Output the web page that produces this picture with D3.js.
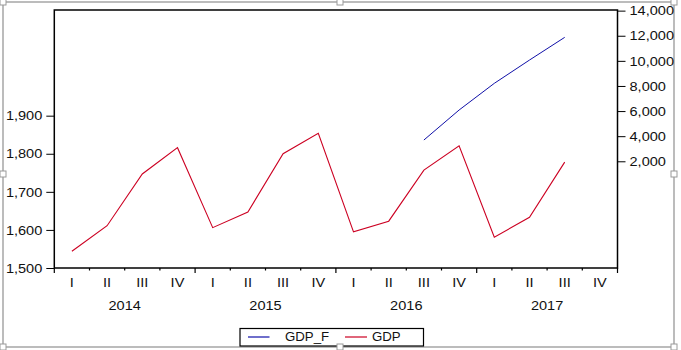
<!DOCTYPE html>
<html><head><meta charset="utf-8">
<script src="https://cdn.jsdelivr.net/npm/d3@7"></script>
<style>
html,body{margin:0;padding:0;background:#fff;}
svg{display:block;}
text{font-family:"Liberation Sans",Arial,sans-serif;fill:#111;}
</style></head>
<body>
<script>
const years = ["2014", "2015", "2016", "2017"];
const quarterNames = ["I", "II", "III", "IV"];
const periods = years.flatMap(y => quarterNames.map(q => y + "-" + q));
const gdp = [1544, 1611, 1747, 1816, 1606, 1647, 1800, 1854, 1595, 1623, 1757, 1821, 1581, 1633, 1778, null];
const gdpF = [null, null, null, null, null, null, null, null, null, null, 3694, 6083, 8209, 10064, 11871, null];
const leftTicks = [1500, 1600, 1700, 1800, 1900];
const rightTicks = [2000, 4000, 6000, 8000, 10000, 12000, 14000];

const W = 681, H = 350;
const L = 54.3, R = 617.5, T = 10, B = 268;
const STRETCH = 1.12;

const svg = d3.select("body").append("svg").attr("width", W).attr("height", H);

const x = d3.scaleBand().domain(periods).range([L, R]).padding(0);
const yL = d3.scaleLinear().domain([1500, 2177.5]).range([B, T]);
const yR = d3.scaleLinear().domain([-6500, 14050]).range([B, T]);
const fmt = d3.format(",");

function stretch(sel, s) {
  sel.each(function () {
    const t = d3.select(this);
    const x0 = +(t.attr("x") || 0);
    t.attr("transform", `matrix(${s},0,0,1,${x0 * (1 - s)},0)`);
  });
}

// outer gray border
svg.append("rect").attr("x", 3).attr("y", 2).attr("width", 671).attr("height", 345)
  .attr("fill", "none").attr("stroke", "#a6a6a6").attr("stroke-width", 1.5);

// plot frame
svg.append("rect").attr("x", L).attr("y", T).attr("width", R - L).attr("height", B - T)
  .attr("fill", "none").attr("stroke", "#000").attr("stroke-width", 1.5);

// left axis
const gl = svg.append("g").attr("transform", `translate(${L},0)`)
  .call(d3.axisLeft(yL).tickValues(leftTicks).tickFormat(fmt).tickSize(8).tickSizeOuter(0).tickPadding(4));
gl.select(".domain").remove();
gl.selectAll("line").attr("stroke", "#000");
gl.selectAll("text").attr("font-size", 13).attr("font-family", "Liberation Sans, Arial, sans-serif").attr("fill", "#111");
stretch(gl.selectAll("text"), STRETCH);

// right axis
const gr = svg.append("g").attr("transform", `translate(${R},0)`)
  .call(d3.axisRight(yR).tickValues(rightTicks).tickFormat(fmt).tickSize(8).tickSizeOuter(0).tickPadding(4));
gr.select(".domain").remove();
gr.selectAll("line").attr("stroke", "#000");
gr.selectAll("text").attr("font-size", 13).attr("font-family", "Liberation Sans, Arial, sans-serif").attr("fill", "#111");
stretch(gr.selectAll("text"), STRETCH);

// bottom axis: boundary ticks
const boundaries = periods.map((p, i) => ({ x: x(p), year: i % 4 === 0 }))
  .concat([{ x: R, year: true }]);
svg.append("g").selectAll("line").data(boundaries).join("line")
  .attr("x1", d => d.x).attr("x2", d => d.x)
  .attr("y1", B).attr("y2", d => B + (d.year ? 5 : 2.5))
  .attr("stroke", "#000").attr("stroke-width", 1.2);

const ql = svg.append("g").selectAll("text").data(periods).join("text")
  .attr("x", d => x(d) + x.bandwidth() / 2).attr("y", 282)
  .attr("dy", "0.35em").attr("text-anchor", "middle").attr("font-size", 13)
  .text(d => d.split("-")[1]);
stretch(ql, STRETCH);

const yl = svg.append("g").selectAll("text").data(years).join("text")
  .attr("x", d => (x(d + "-I") + x(d + "-IV") + x.bandwidth()) / 2).attr("y", 305)
  .attr("dy", "0.35em").attr("text-anchor", "middle").attr("font-size", 13)
  .text(d => d);
stretch(yl, STRETCH);

// lines
const cx = (d, i) => x(periods[i]) + x.bandwidth() / 2;
const lineL = d3.line().defined(d => d != null).x(cx).y(d => yL(d));
const lineR = d3.line().defined(d => d != null).x(cx).y(d => yR(d));
svg.append("path").datum(gdp).attr("d", lineL).attr("fill", "none")
  .attr("stroke", "#cc0022").attr("stroke-width", 1.1);
svg.append("path").datum(gdpF).attr("d", lineR).attr("fill", "none")
  .attr("stroke", "#1010a8").attr("stroke-width", 1);

// legend
const lg = svg.append("g");
lg.append("rect").attr("x", 240).attr("y", 328.5).attr("width", 183.5).attr("height", 17.5)
  .attr("fill", "#fff").attr("stroke", "#000").attr("stroke-width", 1.2);
const legendItems = [
  { name: "GDP_F", color: "#1010a8", x1: 248, x2: 269.5, tx: 285 },
  { name: "GDP", color: "#cc0022", x1: 345, x2: 367, tx: 372 }
];
legendItems.forEach(it => {
  lg.append("line").attr("x1", it.x1).attr("x2", it.x2).attr("y1", 337).attr("y2", 337)
    .attr("stroke", it.color).attr("stroke-width", 1.2);
  const t = lg.append("text").attr("x", it.tx).attr("y", 337).attr("dy", "0.35em")
    .attr("font-size", 12.5).text(it.name);
  stretch(t, 1.06);
});

// selection handles
const handles = [[3, 2], [340, 2], [674, 2], [3, 174], [674, 174], [3, 347], [340, 347], [674, 347]];
svg.append("g").selectAll("rect").data(handles).join("rect")
  .attr("x", d => d[0] - 3).attr("y", d => d[1] - 3).attr("width", 6).attr("height", 6)
  .attr("fill", "#fff").attr("stroke", "#9a9a9a").attr("stroke-width", 1);
</script>
</body></html>
